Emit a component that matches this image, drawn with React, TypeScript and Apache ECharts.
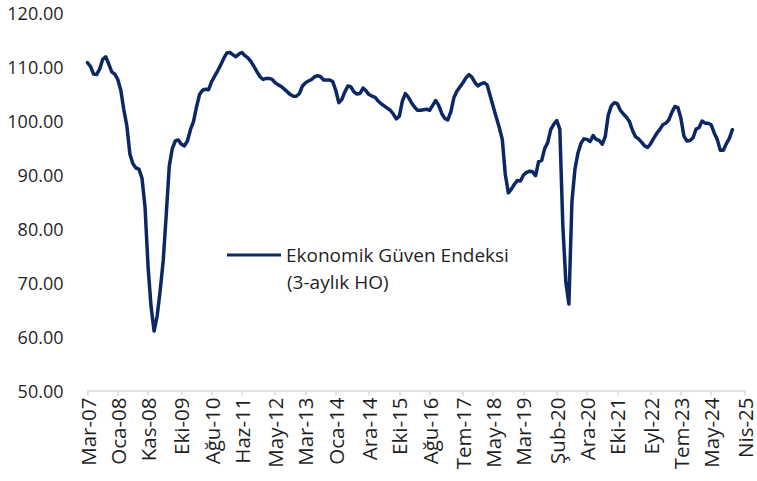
import React, { useEffect, useRef } from "react";
import * as echarts from "echarts";

const monthNames = ["Oca", "Şub", "Mar", "Nis", "May", "Haz", "Tem", "Ağu", "Eyl", "Eki", "Kas", "Ara"];
const startYear = 2007;
const startMonth = 2; // Mart
const monthCount = 218; // Mar-07 .. Nis-25

const tickLabels = [
  "Mar-07", "Oca-08", "Kas-08", "Eki-09", "Ağu-10", "Haz-11", "May-12", "Mar-13", "Oca-14", "Ara-14", "Eki-15",
  "Ağu-16", "Tem-17", "May-18", "Mar-19", "Şub-20", "Ara-20", "Eki-21", "Eyl-22", "Tem-23", "May-24", "Nis-25",
];

const yTicks = [50, 60, 70, 80, 90, 100, 110, 120];

const seriesName = "Ekonomik Güven Endeksi";
const seriesNote = "(3-aylık HO)";

const values2007_2011 = [
  110.7, 110.0, 108.6, 108.5, 109.5, 111.3, 111.8, 110.5, 109.0, 108.6, 107.6, 105.6, 102.0, 99.0, 93.8, 92.0,
  91.2, 91.0, 89.3, 84.0, 73.0, 65.5, 61.0, 63.8, 68.5, 74.0, 82.5, 91.5, 94.8, 96.2, 96.4, 95.6, 95.3, 96.2,
  98.3, 99.8, 102.5, 104.8, 105.6, 105.8, 105.7, 107.2, 108.2, 109.2, 110.3, 111.5, 112.5, 112.6, 112.2, 111.8,
  112.3, 112.6,
];
const values2012_2015 = [
  112.0, 111.6, 110.9, 110.0, 109.0, 108.1, 107.6, 107.8, 107.8, 107.6, 107.0, 106.6, 106.3, 105.8, 105.3, 104.8,
  104.5, 104.5, 105.0, 106.4, 107.0, 107.3, 107.6, 108.1, 108.3, 108.1, 107.5, 107.5, 107.5, 107.2, 105.6, 103.3,
  103.9, 105.3, 106.4, 106.2, 105.3, 104.9, 105.0, 106.0, 105.5, 104.8, 104.5, 104.3, 103.6, 103.1, 102.7, 102.3,
  101.9, 101.2, 100.3, 100.8,
];
const values2016_2019 = [
  103.6, 105.0, 104.3, 103.3, 102.5, 101.9, 101.9, 102.0, 102.1, 101.9, 102.8, 103.7, 102.8, 101.3, 100.4, 100.1,
  101.6, 104.2, 105.4, 106.2, 107.0, 107.9, 108.5, 108.0, 107.0, 106.4, 106.8, 107.0, 106.6, 104.6, 102.6, 100.6,
  98.7, 96.5, 90.0, 86.6, 87.3, 88.2, 88.9, 88.8, 89.9, 90.4, 90.6, 90.5, 89.8, 92.4, 92.6, 94.8, 95.9, 98.3,
  99.3, 100.0,
];
const values2020_2024 = [
  98.4, 80.5, 70.0, 66.0, 85.0, 91.0, 94.0, 95.8, 96.6, 96.5, 96.1, 97.2, 96.5, 96.3, 95.6, 97.0, 101.0, 102.7,
  103.3, 103.1, 101.9, 101.2, 100.6, 99.8, 98.2, 97.0, 96.6, 96.0, 95.3, 95.0, 95.7, 96.7, 97.6, 98.3, 99.2,
  99.5, 100.1, 101.5, 102.6, 102.4, 100.4, 97.1, 96.2, 96.3, 96.8, 98.4, 98.7, 99.9, 99.5, 99.5, 99.2, 97.7,
  96.5, 94.5, 94.5, 95.7, 96.7, 98.3,
];

const indexValues = [...values2007_2011, ...values2012_2015, ...values2016_2019, ...values2020_2024];

const categories: string[] = [];
for (let k = 0; k < monthCount; k++) {
  const m = (startMonth + k) % 12;
  const y = startYear + Math.floor((startMonth + k) / 12);
  categories.push(`${monthNames[m]}-${String(y % 100).padStart(2, "0")}`);
}
const tickIndexSet = new Set(tickLabels.map((t) => categories.indexOf(t)));

const FONT = "'Open Sans', 'Noto Sans', sans-serif";
const LINE_COLOR = "#0b2865";
const TEXT_COLOR = "#1f1f1f";

export default function App() {
  const ref = useRef<HTMLDivElement>(null);
  useEffect(() => {
    if (!ref.current) return;
    const chart = echarts.init(ref.current, null, { renderer: "svg" });
    chart.setOption({
      animation: false,
      backgroundColor: "#ffffff",
      grid: {
        left: 87.5,
        right: 12.5,
        top: 12.5,
        bottom: 90.5,
        containLabel: false,
        outerBoundsMode: "none",
      },
      legend: {
        data: [seriesName],
        left: 227,
        top: 245,
        padding: 0,
        icon: "rect",
        itemWidth: 54,
        itemHeight: 3,
        itemGap: 0,
        selectedMode: false,
        textStyle: { fontFamily: FONT, fontSize: 19, color: TEXT_COLOR, lineHeight: 20 },
      },
      graphic: [
        {
          type: "text",
          left: 287,
          top: 272,
          style: { text: seriesNote, fontFamily: FONT, fontSize: 19, fill: TEXT_COLOR },
        },
      ],
      xAxis: {
        type: "category",
        data: categories,
        boundaryGap: false,
        axisLine: { show: true, lineStyle: { color: "#d9d9d9", width: 1.5 } },
        axisTick: {
          show: true,
          length: 5,
          interval: (idx: number) => tickIndexSet.has(idx),
          lineStyle: { color: "#d9d9d9", width: 1.5 },
        },
        axisLabel: {
          interval: (idx: number) => tickIndexSet.has(idx),
          rotate: 90,
          margin: 7,
          fontFamily: FONT,
          fontSize: 20.5,
          color: TEXT_COLOR,
          showMinLabel: true,
          showMaxLabel: true,
          hideOverlap: false,
        },
        splitLine: { show: false },
      },
      yAxis: {
        type: "value",
        min: yTicks[0],
        max: yTicks[yTicks.length - 1],
        interval: 10,
        axisLine: { show: false },
        axisTick: { show: false },
        splitLine: { show: false },
        axisLabel: {
          margin: 24,
          fontFamily: FONT,
          fontSize: 18,
          color: TEXT_COLOR,
          formatter: (v: number) => v.toFixed(2),
        },
      },
      series: [
        {
          name: seriesName,
          type: "line",
          data: indexValues,
          showSymbol: false,
          symbol: "none",
          smooth: false,
          lineStyle: { color: LINE_COLOR, width: 3.5, join: "round", cap: "round" },
          itemStyle: { color: LINE_COLOR },
        },
      ],
    });
    return () => chart.dispose();
  }, []);
  return (
    <div
      ref={ref}
      style={{ position: "fixed", left: 0, top: 0, width: 757, height: 481, background: "#fff" }}
    />
  );
}
